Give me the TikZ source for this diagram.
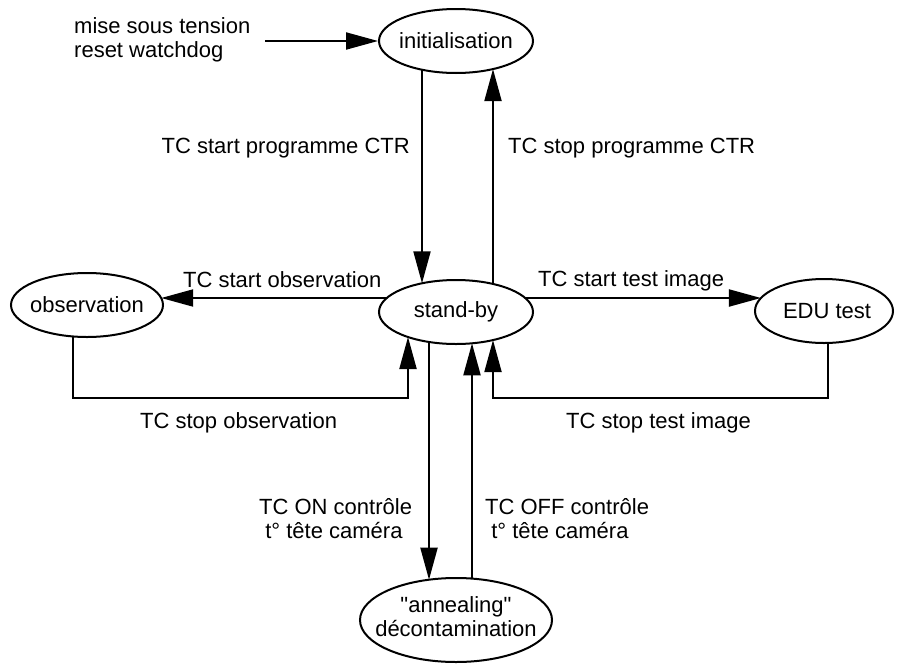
\documentclass[tikz,border=0pt]{standalone}
\usepackage{fontspec}
\setmainfont{Liberation Sans}[Ligatures=TeXOff]
\usetikzlibrary{arrows.meta,calc,shapes.geometric}
\begin{document}
\begin{tikzpicture}[x=1pt,y=-1pt,
  every node/.style={font=\fontsize{22}{24}\selectfont},
  state/.style={ellipse,draw,line width=2pt,inner sep=0pt},
  conn/.style={line width=2pt},
  arr/.style={conn,-{Triangle[length=32pt,width=17pt]}},
  lbl/.style={inner sep=0pt}]
\useasboundingbox (0,0) rectangle (899,664);
% states
\node[state,minimum width=154pt,minimum height=64pt] (init) at (456,41) {\makebox[0pt]{initialisation}};
\node[state,minimum width=154pt,minimum height=64pt] (stby) at (456,312) {\makebox[0pt]{stand-by}};
\node[state,minimum width=152pt,minimum height=64pt] (obs) at (87,305) {\makebox[0pt]{observation}};
\node[state,minimum width=138pt,minimum height=64pt] (edu) at (824,311) {\makebox[0pt]{\hspace{6pt}EDU test}};
\node[state,minimum width=192pt,minimum height=84pt] (ann) at (456,620) {\makebox[0pt]{\begin{tabular}{@{}c@{}}"annealing"\\d\'econtamination\end{tabular}}};
% entry
\coordinate (src) at (265,41);
\draw[arr] (src) -- (init.west);
\node[lbl,anchor=base west] (entry) at (74,33) {\begin{tabular}[t]{@{}l@{}}mise sous tension\\reset watchdog\end{tabular}};
% init <-> stand-by
\draw[arr] ($(init.center)+(-34,28.7)$) -- ($(stby.center)+(-34,-28.7)$);
\draw[arr] ($(stby.center)+(37,-28.1)$) -- ($(init.center)+(37,28.1)$);
\node[lbl,anchor=base east] (l1) at (410,153) {TC start programme CTR};
\node[lbl,anchor=base west] (l2) at (508,153) {TC stop programme CTR};
% stand-by -> observation / EDU
\draw[arr] ($(stby.center)+(-69.2,-14)$) -- ($(obs.center)+(74.2,-7)$);
\draw[arr] ($(stby.center)+(69.2,-14)$) -- ($(edu.center)+(-63.05,-13)$);
\node[lbl,anchor=base west] (l3) at (183,287) {TC start observation};
\node[lbl,anchor=base west] (l4) at (538,286) {TC start test image};
% returns
\coordinate (low) at (0,398);
\coordinate (obsS) at ($(obs.center)+(-14,31.5)$);
\coordinate (sbL) at ($(stby.center)+(-48,25)$);
\draw[arr] (obsS) -- (obsS |- low) -| (sbL);
\coordinate (eduS) at ($(edu.center)+(4,32)$);
\coordinate (sbR) at ($(stby.center)+(37,28.1)$);
\draw[arr] (eduS) -- (eduS |- low) -| (sbR);
\node[lbl,anchor=base west] (l5) at (140,428) {TC stop observation};
\node[lbl,anchor=base west] (l6) at (566,428) {TC stop test image};
% annealing
\draw[arr] ($(stby.center)+(-27,30)$) -- ($(ann.center)+(-27,-40.3)$);
\draw[arr] ($(ann.center)+(16,-41.4)$) -- ($(stby.center)+(16,31.3)$);
\node[lbl,anchor=base west] (l7) at (259,514) {\begin{tabular}[t]{@{}l@{}}TC ON contr\^ole\\\ t° t\^ete cam\'era\end{tabular}};
\node[lbl,anchor=base west] (l8) at (485,514) {\begin{tabular}[t]{@{}l@{}}TC OFF contr\^ole\\\ t° t\^ete cam\'era\end{tabular}};
\end{tikzpicture}
\end{document}
